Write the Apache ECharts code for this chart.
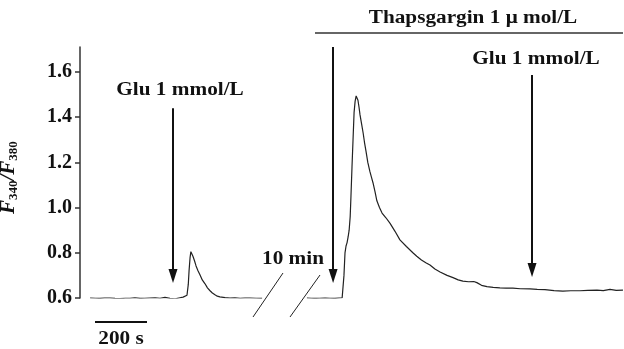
<!DOCTYPE html>
<html>
<head>
<meta charset="utf-8">
<script src="https://cdn.jsdelivr.net/npm/echarts@6/dist/echarts.min.js"></script>
<style>
  html, body { margin: 0; padding: 0; background: #fff; }
  #chart { width: 624px; height: 349px; }
</style>
</head>
<body>
<div id="chart"></div>
<script>
// trace before the break (s, F340/F380)
var timeA = [39, 60, 77, 95, 116, 135, 154, 175, 193, 212, 232, 250, 270, 290, 309, 328, 347, 367, 386, 398, 405, 413, 418, 421, 425, 428, 432, 436, 442, 448, 455, 463, 472, 482, 492, 502, 511, 521, 530, 540, 560, 579, 598, 618, 637, 656, 680, 703];
var ratioA = [0.600, 0.599, 0.598, 0.600, 0.600, 0.598, 0.597, 0.599, 0.599, 0.601, 0.598, 0.599, 0.600, 0.601, 0.599, 0.603, 0.598, 0.596, 0.601, 0.604, 0.606, 0.612, 0.660, 0.720, 0.780, 0.805, 0.800, 0.785, 0.765, 0.742, 0.722, 0.703, 0.680, 0.664, 0.645, 0.632, 0.622, 0.614, 0.608, 0.605, 0.602, 0.600, 0.601, 0.599, 0.600, 0.600, 0.599, 0.598];

// trace after the 10 min break
var timeB = [876, 892, 907, 925, 946, 965, 984, 1000, 1012, 1015, 1019, 1023, 1027, 1031, 1035, 1039, 1043, 1046, 1050, 1054, 1058, 1062, 1066, 1069, 1073, 1077, 1081, 1087, 1093, 1098, 1104, 1111, 1119, 1125, 1131, 1139, 1146, 1156, 1166, 1181, 1197, 1216, 1235, 1260, 1285, 1300, 1318, 1335, 1351, 1370, 1390, 1417, 1440, 1460, 1478, 1500, 1520, 1532, 1550, 1571, 1595, 1621, 1645, 1671, 1700, 1737, 1765, 1795, 1830, 1864, 1895, 1930, 1960, 1996, 2020, 2046, 2070, 2096];
var ratioB = [0.600, 0.599, 0.598, 0.599, 0.600, 0.599, 0.598, 0.600, 0.601, 0.603, 0.700, 0.800, 0.830, 0.845, 0.870, 0.900, 0.960, 1.050, 1.180, 1.300, 1.420, 1.470, 1.494, 1.490, 1.475, 1.445, 1.410, 1.370, 1.330, 1.290, 1.250, 1.200, 1.160, 1.135, 1.110, 1.070, 1.030, 1.000, 0.976, 0.955, 0.930, 0.895, 0.857, 0.828, 0.800, 0.785, 0.768, 0.756, 0.746, 0.728, 0.715, 0.700, 0.690, 0.680, 0.675, 0.672, 0.673, 0.668, 0.656, 0.650, 0.647, 0.645, 0.644, 0.644, 0.641, 0.640, 0.638, 0.637, 0.633, 0.630, 0.632, 0.632, 0.634, 0.635, 0.633, 0.638, 0.634, 0.635];

// arrows: [time, top value, head value]
var arrows = [[359, 1.44, 0.697], [977, 1.71, 0.697], [1745, 1.587, 0.724]];

var yTicks = [0.6, 0.8, 1.0, 1.2, 1.4, 1.6];

function pairs(xs, ys) {
    var out = [];
    for (var i = 0; i < xs.length; i++) {
        out.push([xs[i], ys[i]]);
    }
    return out;
}

var arrowLines = arrows.map(function (a) {
    return [
        { coord: [a[0], a[1]], symbol: 'none' },
        { coord: [a[0], a[2]], symbol: 'triangle', symbolSize: [9, 14] }
    ];
});

var serif = 'Liberation Serif';
var txt = function (x, y, s, size, sx) {
    return {
        type: 'text', x: x, y: y, scaleX: sx || 1.18,
        style: {
            text: s, fill: '#111', font: 'bold ' + (size || 18) + 'px "' + serif + '"',
            align: 'center', verticalAlign: 'middle'
        }
    };
};

var myChart = echarts.init(document.getElementById('chart'));
var option = {
    animation: false,
    grid: { left: 80, right: 0, top: 47.1, bottom: 51, outerBoundsMode: 'none' },
    xAxis: { type: 'value', min: 0, max: 2100, show: false },
    yAxis: {
        type: 'value',
        min: 0.6,
        max: 1.71,
        axisLine: { show: true, lineStyle: { color: '#333', width: 1.5 } },
        axisTick: { show: true, length: 5, customValues: yTicks, lineStyle: { color: '#333', width: 1.5 } },
        axisLabel: {
            customValues: yTicks,
            margin: 8,
            color: '#111',
            fontFamily: serif,
            fontWeight: 'bold',
            fontSize: 20,
            formatter: function (v) { return v.toFixed(1); }
        },
        splitLine: { show: false },
        name: '{i|F}{s|340}{i|/F}{s|380}',
        nameLocation: 'middle',
        nameRotate: 90,
        nameGap: 60,
        nameTextStyle: {
            padding: [0, 10, 0, 0],
            rich: {
                i: { fontFamily: serif, fontStyle: 'italic', fontWeight: 'bold', fontSize: 21, color: '#111' },
                s: { fontFamily: serif, fontWeight: 'bold', fontSize: 13, color: '#111', padding: [10, 0, 0, 0] }
            }
        }
    },
    series: [
        {
            type: 'line',
            data: pairs(timeA, ratioA),
            showSymbol: false,
            lineStyle: { color: '#222', width: 1.2 },
            markLine: {
                silent: true,
                animation: false,
                label: { show: false },
                lineStyle: { color: '#111', width: 2, type: 'solid' },
                data: arrowLines
            }
        },
        {
            type: 'line',
            data: pairs(timeB, ratioB),
            showSymbol: false,
            lineStyle: { color: '#222', width: 1.2 }
        }
    ],
    graphic: [
        // break marks
        { type: 'line', shape: { x1: 253, y1: 317, x2: 283, y2: 273 }, style: { stroke: '#222', lineWidth: 1 } },
        { type: 'line', shape: { x1: 290, y1: 317, x2: 320, y2: 275 }, style: { stroke: '#222', lineWidth: 1 } },
        // thapsgargin bar
        { type: 'line', shape: { x1: 315, y1: 33, x2: 623, y2: 33 }, style: { stroke: '#333', lineWidth: 1.5 } },
        // 200 s scale bar
        { type: 'line', shape: { x1: 95, y1: 322, x2: 147, y2: 322 }, style: { stroke: '#111', lineWidth: 2 } },
        txt(180, 90, 'Glu 1 mmol/L'),
        txt(536, 59, 'Glu 1 mmol/L'),
        txt(473, 18, 'Thapsgargin 1 \u03bc mol/L'),
        txt(293, 259, '10 min'),
        txt(121, 339, '200 s')
    ]
};
myChart.setOption(option);
</script>
</body>
</html>
